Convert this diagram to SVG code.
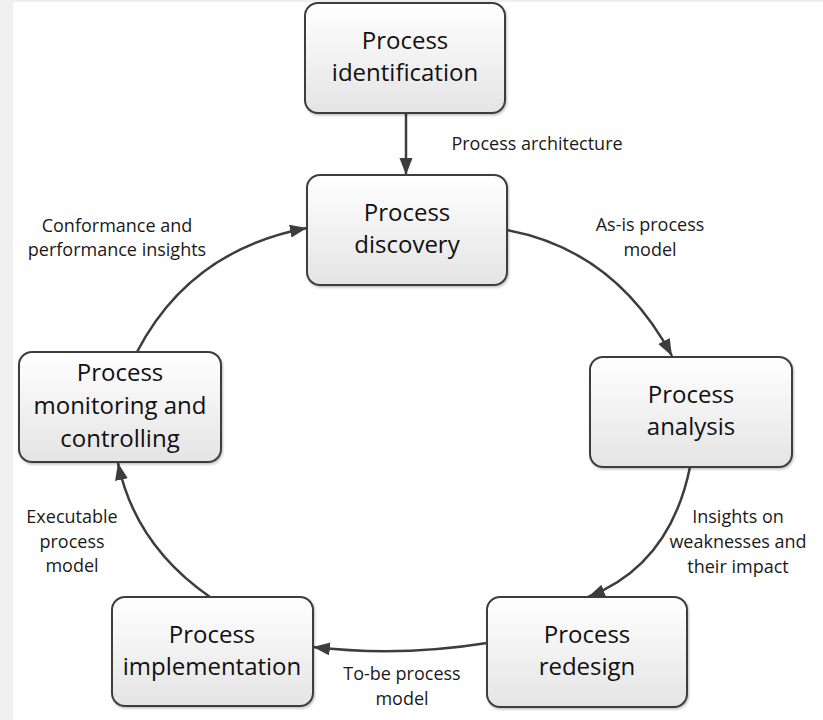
<svg xmlns="http://www.w3.org/2000/svg" width="823" height="720" viewBox="0 0 823 720">
<style>
.box{fill:url(#g);stroke:#3d3d3d;stroke-width:2;filter:url(#sh)}
.nt{font-family:"Open Sans","Liberation Sans",sans-serif;font-size:24px;fill:#111;text-anchor:middle}
.lb{font-family:"Open Sans","Liberation Sans",sans-serif;font-size:18px;fill:#1a1a1a;text-anchor:middle}
.c{fill:none;stroke:#3d3d3d;stroke-width:2.5;marker-end:url(#ah)}
</style>
<defs>
<linearGradient id="g" x1="0" y1="0" x2="0" y2="1">
<stop offset="0" stop-color="#ffffff"/>
<stop offset="1" stop-color="#e4e4e4"/>
</linearGradient>
<filter id="sh" x="-10%" y="-10%" width="120%" height="130%">
<feDropShadow dx="1" dy="1.5" stdDeviation="1.2" flood-color="#000" flood-opacity="0.25"/>
</filter>
<marker id="ah" markerUnits="userSpaceOnUse" markerWidth="18" markerHeight="14" refX="17" refY="6.5" orient="auto">
<path d="M0,0 L17,6.5 L0,13 Z" fill="#3d3d3d"/>
</marker>
</defs>
<rect x="0" y="0" width="823" height="720" fill="#ffffff"/>
<rect x="0" y="0" width="13" height="720" fill="#f0f0f0"/>
<rect x="0" y="0" width="823" height="2" fill="#f0f0f0"/>

<g id="connectors">
<path class="c" d="M406,113 L406,175"/>
<path class="c" d="M507,230 Q615,250 672,356"/>
<path class="c" d="M690,467 Q670,565 588,597"/>
<path class="c" d="M487,643 Q400,657 313,647"/>
<path class="c" d="M210,597 Q135,545 118,463"/>
<path class="c" d="M137,352 Q190,250 307,228"/>
</g>

<g id="edge-labels">
<text class="lb" x="537" y="150">Process architecture</text>
<text class="lb" x="650" y="231">As-is process</text>
<text class="lb" x="650" y="256">model</text>
<text class="lb" x="117" y="232">Conformance and</text>
<text class="lb" x="117" y="256">performance insights</text>
<text class="lb" x="738" y="523">Insights on</text>
<text class="lb" x="738" y="548">weaknesses and</text>
<text class="lb" x="738" y="573">their impact</text>
<text class="lb" x="72" y="523">Executable</text>
<text class="lb" x="72" y="548">process</text>
<text class="lb" x="72" y="572">model</text>
<text class="lb" x="402" y="680">To-be process</text>
<text class="lb" x="402" y="705">model</text>
</g>

<g id="n-identification">
<rect class="box" x="305" y="3" width="200" height="110" rx="13"/>
<text class="nt" x="405" y="49">Process</text>
<text class="nt" x="405" y="81">identification</text>
</g>
<g id="n-discovery">
<rect class="box" x="307" y="175" width="200" height="110" rx="13"/>
<text class="nt" x="407" y="221">Process</text>
<text class="nt" x="407" y="253">discovery</text>
</g>
<g id="n-analysis">
<rect class="box" x="590" y="357" width="202" height="110" rx="13"/>
<text class="nt" x="691" y="403">Process</text>
<text class="nt" x="691" y="435">analysis</text>
</g>
<g id="n-redesign">
<rect class="box" x="487" y="597" width="200" height="110" rx="13"/>
<text class="nt" x="587" y="643">Process</text>
<text class="nt" x="587" y="675">redesign</text>
</g>
<g id="n-implementation">
<rect class="box" x="112" y="597" width="201" height="109" rx="13"/>
<text class="nt" x="212" y="643">Process</text>
<text class="nt" x="212" y="675">implementation</text>
</g>
<g id="n-monitoring">
<rect class="box" x="19" y="352" width="202" height="110" rx="13"/>
<text class="nt" x="120" y="381">Process</text>
<text class="nt" x="120" y="414">monitoring and</text>
<text class="nt" x="120" y="447">controlling</text>
</g>
</svg>
